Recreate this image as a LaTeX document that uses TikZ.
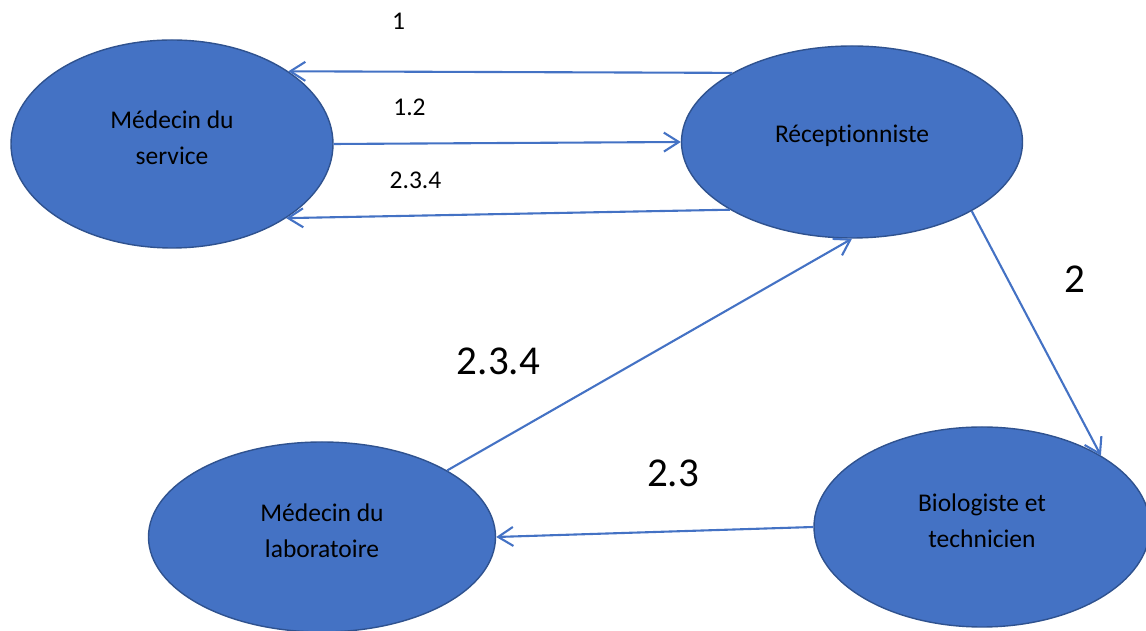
\documentclass[tikz,border=0pt]{standalone}
\usepackage{fontspec}
\setmainfont{Carlito}[Ligatures={NoCommon}]
\usetikzlibrary{shapes.geometric,arrows.meta}
\definecolor{actfill}{HTML}{4472C4}
\definecolor{actedge}{HTML}{2F528F}
\definecolor{flow}{HTML}{4472C4}
\begin{document}
\begin{tikzpicture}[x=1pt,y=1pt,
  actor/.style={ellipse, draw=actedge, line width=1.4pt, fill=actfill,
    inner sep=0pt},
  who/.style={align=center, text=black, inner sep=0pt, yshift=6pt,
    font=\fontsize{25.5}{36}\selectfont},
  msg/.style={draw=flow, line width=2.1pt,
    -{Straight Barb[length=15pt,width=19pt,line width=2.1pt]}},
  small/.style={anchor=base, inner sep=0pt, font=\fontsize{25.5}{30}\selectfont},
  big/.style={anchor=base, inner sep=0pt, font=\fontsize{41}{48}\selectfont}]
\useasboundingbox (0,0) rectangle (1146,631);
\clip (0,0) rectangle (1146,631);

% actors
\node[actor, minimum width=322pt, minimum height=208pt,
  label={[who]center:{Médecin du\\service}}] (svc) at (172,487) {};
\node[actor, minimum width=341pt, minimum height=192pt,
  label={[who]center:{Réceptionniste}}] (rec) at (852,489) {};
\node[actor, minimum width=347pt, minimum height=190pt,
  label={[who]center:{Médecin du\\laboratoire}}] (lab) at (322,94) {};
\node[actor, minimum width=336pt, minimum height=200pt,
  label={[who]center:{Biologiste et\\technicien}}] (bio) at (982,104) {};

% flows
\draw[msg] (rec.150.5) -- (svc.32.4);
\draw[msg] (svc.east) -- (rec.west);
\draw[msg] (rec.209.5) -- (svc.327.2);
\draw[msg] (rec.330.3) -- (bio.31.4);
\draw[msg] (lab.28.9) -- (rec.south);
\draw[msg] (bio.west) -- (lab.east);

% flow numbers
\node[small] (n1) at (398.5,601) {1};
\node[small] (n12) at (409.5,515) {1.2};
\node[small] (n234a) at (415.5,442) {2.3.4};
\node[big] (n234b) at (498.5,256) {2.3.4};
\node[big] (n23) at (673,144) {2.3};
\node[big] (n2) at (1075,338) {2};
\end{tikzpicture}
\end{document}
